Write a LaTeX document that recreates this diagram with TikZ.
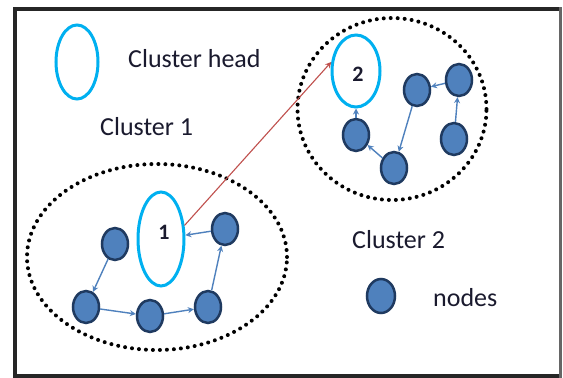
\documentclass[tikz,border=0pt]{standalone}
\usepackage{fontspec}
\setmainfont{Carlito}
\usetikzlibrary{shapes.geometric,arrows.meta}
\definecolor{headc}{HTML}{00B0F0}
\definecolor{nfill}{HTML}{4F81BD}
\definecolor{nborder}{HTML}{1F3A60}
\definecolor{arrc}{HTML}{4F81BD}
\definecolor{redc}{HTML}{C0504D}
\definecolor{txtc}{HTML}{1A1A2E}
\tikzset{
  chead/.style={ellipse, draw=headc, line width=3pt, inner sep=0pt, fill=white},
  snode/.style={ellipse, draw=nborder, fill=nfill, line width=2.5pt, inner sep=0pt, minimum width=26pt, minimum height=32pt},
  cluster/.style={ellipse, draw=black, line width=4pt, dash pattern=on 0pt off 7pt, line cap=round, inner sep=0pt},
  lbl/.style={text=txtc, font=\fontsize{26}{30}\selectfont, inner sep=0pt, anchor=west},
  num/.style={text=txtc, font=\fontsize{22}{26}\selectfont\bfseries, inner sep=0pt},
  link/.style={draw=arrc, line width=1.4pt, -{Stealth[length=6pt,width=6pt,inset=2pt]}},
  redlink/.style={draw=redc, line width=1.1pt, -{Stealth[length=6pt,width=6pt,inset=2pt]}}
}
\begin{document}
\begin{tikzpicture}[x=1pt,y=-1pt]
\useasboundingbox (0,0) rectangle (563,378);
\fill[white] (0,0) rectangle (563,378);
\draw[black!85, line width=4pt] (560.5,375.5) -- (14.5,375.5) -- (14.5,9) -- (560.5,9);
\draw[black!60, line width=2.5pt] (560.5,7) -- (560.5,377.5);

% clusters
\node[cluster, minimum width=260pt, minimum height=186pt] (c1) at (157,257) {};
\node[cluster, minimum width=189pt, minimum height=182pt] (c2) at (392,109) {};

% legend
\node[chead, minimum width=42pt, minimum height=74pt] (lh) at (77,62) {};
\node[lbl] (tlh) at (128,59) {Cluster head};
\node[lbl] (tc1) at (100,127) {Cluster 1};
\node[lbl] (tc2) at (352,240) {Cluster 2};
\node[snode, minimum width=28pt, minimum height=34pt] (ln) at (381,296) {};
\node[lbl] (tn) at (433,298) {nodes};

% cluster 1
\node[chead, minimum width=46pt, minimum height=94pt] (h1) at (161,239) {};
\node[num] (n1) at (164,232) {1};
\node[snode] (a) at (115,244) {};
\node[snode] (b) at (86,307) {};
\node[snode] (c) at (150,316) {};
\node[snode] (d) at (208,307) {};
\node[snode] (e) at (225,229) {};

% cluster 2
\node[chead, minimum width=48pt, minimum height=72pt] (h2) at (356,71) {};
\node[num] (n2) at (358,74) {2};
\node[snode] (f) at (356,135) {};
\node[snode] (g) at (394,168) {};
\node[snode] (hh) at (417,90) {};
\node[snode] (i) at (459,80) {};
\node[snode] (j) at (454,139) {};

% links cluster 1
\draw[link] (a) -- (b);
\draw[link] (b) -- (c);
\draw[link] (c) -- (d);
\draw[link] (d) -- (e);
\draw[link] (e) -- (h1);

% links cluster 2
\draw[link] (j) -- (i);
\draw[link] (i) -- (hh);
\draw[link] (hh) -- (g);
\draw[link] (g) -- (f);
\draw[link] (f) -- (h2);

% head to head
\draw[redlink] (h1.30) -- (h2.160);
\end{tikzpicture}
\end{document}
